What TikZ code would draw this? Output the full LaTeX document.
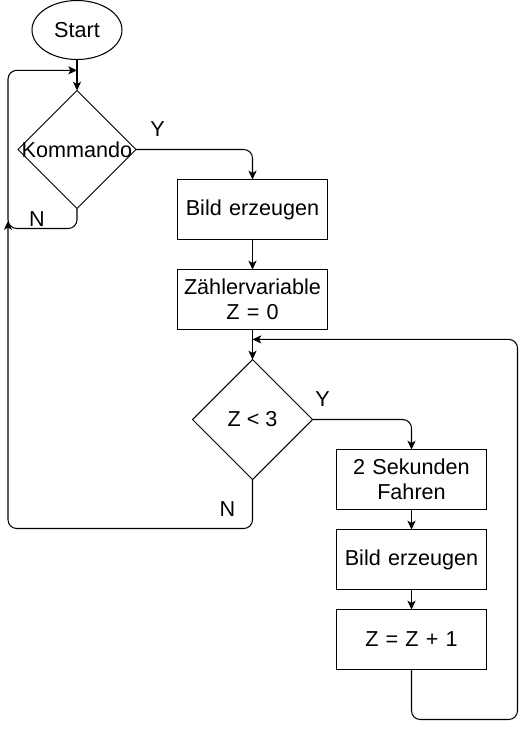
\documentclass[tikz,border=0pt]{standalone}
\usepackage{fontspec}
\setmainfont{Liberation Sans}
\usetikzlibrary{arrows.meta, positioning, shapes.geometric, calc}

\begin{document}
\begin{tikzpicture}[
    font=\fontsize{12.3}{14.4}\selectfont,
    terminal/.style={ellipse, draw, line width=0.6pt, minimum width=1.8cm,
                     minimum height=1.18cm, inner sep=0pt, outer sep=0pt},
    decision/.style={diamond, draw, line width=0.6pt, minimum width=#1,
                     minimum height=#1, inner sep=0pt, outer sep=0pt},
    process/.style={rectangle, draw, line width=0.6pt, minimum width=3cm,
                    minimum height=1.2cm, text width=2.9cm, align=center,
                    inner sep=0pt, outer sep=0pt},
    arrow/.style={-{Stealth[length=5pt, width=4.6pt, inset=1.3pt]}, line width=0.6pt,
                  rounded corners=5pt},
    branch/.style={inner sep=0pt}
  ]
    \useasboundingbox (0,0) rectangle (10.52,-14.58);

    \node[terminal] (start) at (1.54,-0.6) {Start};
    \node[decision=2.36cm, below=0.62cm of start] (command) {\makebox[0pt]{Kommando}};
    \node[process, anchor=north] (snapshot) at ($(command.east)+(2.33cm,-0.6cm)$) {Bild erzeugen};
    \node[process, below=0.6cm of snapshot] (counter) {Zählervariable\\Z = 0};
    \node[decision=2.4cm, below=0.6cm of counter] (check) {Z < 3};
    \node[process, anchor=north] (drive) at ($(check.east)+(1.98cm,-0.6cm)$) {2 Sekunden\\Fahren};
    \node[process, below=0.4cm of drive] (snapshottwo) {Bild erzeugen};
    \node[process, below=0.4cm of snapshottwo] (increment) {Z = Z + 1};

    \coordinate (mergetop) at ($(start.south)!0.35!(command.north)$);
    \coordinate (mergemid) at ($(counter.south)!0.33!(check.north)$);
    \coordinate[left=1.38cm of mergetop] (railleft);
    \coordinate (railend) at ($(railleft |- command.south)+(0,-0.25cm)$);
    \coordinate[right=5.3cm of mergemid] (railright);

    \draw[arrow] (start) -- (command);
    \draw[arrow] (command.east) -| (snapshot.north);
    \draw[arrow] (snapshot) -- (counter);
    \draw[arrow] (counter) -- (check);
    \draw[arrow] (check.east) -| (drive.north);
    \draw[arrow] (drive) -- (snapshottwo);
    \draw[arrow] (snapshottwo) -- (increment);
    \draw[arrow] (command.south) -- ++(0,-0.4cm) -| (railleft) -- (mergetop);
    \draw[arrow] (check.south) -- ++(0,-0.98cm) -| (railend);
    \draw[arrow] (increment.south) -- ++(0,-1cm) -| (railright) -- (mergemid);

    \node[branch] (commandyes) at ($(command.east)+(0.43,0.4)$) {Y};
    \node[branch] (commandno) at ($(command.south)+(-0.8,-0.21)$) {N};
    \node[branch] (checkyes) at ($(check.east)+(0.2,0.4)$) {Y};
    \node[branch] (checkno) at ($(check.south)+(-0.5,-0.6)$) {N};
  \end{tikzpicture}
\end{document}
